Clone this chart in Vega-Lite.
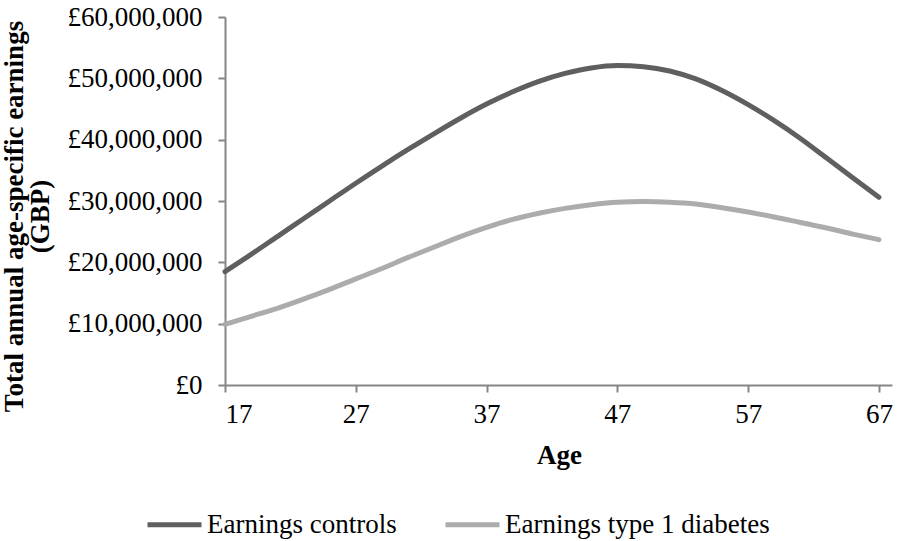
{
  "$schema": "https://vega.github.io/schema/vega-lite/v6.json",
  "width": 667,
  "height": 368,
  "autosize": {"type": "none"},
  "padding": {"left": 225, "top": 17, "right": 8, "bottom": 156},
  "background": "white",
  "config": {
    "font": "Liberation Serif",
    "view": {"stroke": null},
    "axis": {"grid": false, "domainColor": "#868686", "tickColor": "#868686", "domainWidth": 2, "tickWidth": 2, "labelFont": "Liberation Serif", "labelFontSize": 27, "labelColor": "#000000", "titleFont": "Liberation Serif", "titleFontSize": 27, "titleColor": "#000000", "titleFontWeight": "bold"}
  },
  "data": {
    "values": [
      {"age": 17, "series": "Earnings controls", "earnings": 18500000},
      {"age": 19, "series": "Earnings controls", "earnings": 21300000},
      {"age": 21, "series": "Earnings controls", "earnings": 24200000},
      {"age": 23, "series": "Earnings controls", "earnings": 27100000},
      {"age": 25, "series": "Earnings controls", "earnings": 30000000},
      {"age": 27, "series": "Earnings controls", "earnings": 32900000},
      {"age": 29, "series": "Earnings controls", "earnings": 35700000},
      {"age": 31, "series": "Earnings controls", "earnings": 38400000},
      {"age": 33, "series": "Earnings controls", "earnings": 41000000},
      {"age": 35, "series": "Earnings controls", "earnings": 43500000},
      {"age": 37, "series": "Earnings controls", "earnings": 45800000},
      {"age": 39, "series": "Earnings controls", "earnings": 47800000},
      {"age": 41, "series": "Earnings controls", "earnings": 49500000},
      {"age": 43, "series": "Earnings controls", "earnings": 50800000},
      {"age": 45, "series": "Earnings controls", "earnings": 51700000},
      {"age": 47, "series": "Earnings controls", "earnings": 52100000},
      {"age": 49, "series": "Earnings controls", "earnings": 51900000},
      {"age": 51, "series": "Earnings controls", "earnings": 51200000},
      {"age": 53, "series": "Earnings controls", "earnings": 49900000},
      {"age": 55, "series": "Earnings controls", "earnings": 48000000},
      {"age": 57, "series": "Earnings controls", "earnings": 45700000},
      {"age": 59, "series": "Earnings controls", "earnings": 43100000},
      {"age": 61, "series": "Earnings controls", "earnings": 40200000},
      {"age": 63, "series": "Earnings controls", "earnings": 37000000},
      {"age": 65, "series": "Earnings controls", "earnings": 33800000},
      {"age": 67, "series": "Earnings controls", "earnings": 30600000},
      {"age": 17, "series": "Earnings type 1 diabetes", "earnings": 9900000},
      {"age": 19, "series": "Earnings type 1 diabetes", "earnings": 11200000},
      {"age": 21, "series": "Earnings type 1 diabetes", "earnings": 12500000},
      {"age": 23, "series": "Earnings type 1 diabetes", "earnings": 14000000},
      {"age": 25, "series": "Earnings type 1 diabetes", "earnings": 15600000},
      {"age": 27, "series": "Earnings type 1 diabetes", "earnings": 17300000},
      {"age": 29, "series": "Earnings type 1 diabetes", "earnings": 19000000},
      {"age": 31, "series": "Earnings type 1 diabetes", "earnings": 20800000},
      {"age": 33, "series": "Earnings type 1 diabetes", "earnings": 22500000},
      {"age": 35, "series": "Earnings type 1 diabetes", "earnings": 24200000},
      {"age": 37, "series": "Earnings type 1 diabetes", "earnings": 25700000},
      {"age": 39, "series": "Earnings type 1 diabetes", "earnings": 27000000},
      {"age": 41, "series": "Earnings type 1 diabetes", "earnings": 28000000},
      {"age": 43, "series": "Earnings type 1 diabetes", "earnings": 28800000},
      {"age": 45, "series": "Earnings type 1 diabetes", "earnings": 29400000},
      {"age": 47, "series": "Earnings type 1 diabetes", "earnings": 29800000},
      {"age": 49, "series": "Earnings type 1 diabetes", "earnings": 29900000},
      {"age": 51, "series": "Earnings type 1 diabetes", "earnings": 29800000},
      {"age": 53, "series": "Earnings type 1 diabetes", "earnings": 29500000},
      {"age": 55, "series": "Earnings type 1 diabetes", "earnings": 28900000},
      {"age": 57, "series": "Earnings type 1 diabetes", "earnings": 28200000},
      {"age": 59, "series": "Earnings type 1 diabetes", "earnings": 27400000},
      {"age": 61, "series": "Earnings type 1 diabetes", "earnings": 26500000},
      {"age": 63, "series": "Earnings type 1 diabetes", "earnings": 25600000},
      {"age": 65, "series": "Earnings type 1 diabetes", "earnings": 24600000},
      {"age": 67, "series": "Earnings type 1 diabetes", "earnings": 23700000}
    ]
  },
  "mark": {"type": "line", "interpolate": "monotone", "strokeWidth": 5, "strokeCap": "round"},
  "encoding": {
    "x": {
      "field": "age", "type": "quantitative",
      "scale": {"domain": [17, 68], "nice": false, "zero": false},
      "axis": {"values": [17, 27, 37, 47, 57, 67], "title": "Age", "tickSize": 7, "labelPadding": 9, "titleX": 334, "titleY": 78, "titleBaseline": "alphabetic", "titleAlign": "center"}
    },
    "y": {
      "field": "earnings", "type": "quantitative",
      "scale": {"domain": [0, 60000000], "nice": false},
      "axis": {"values": [0, 10000000, 20000000, 30000000, 40000000, 50000000, 60000000], "labelExpr": "'£' + format(datum.value, ',')", "tickSize": 7, "labelPadding": 16, "title": ["Total annual age-specific earnings", "(GBP)"], "titleX": -224, "titleY": 199, "titleBaseline": "top", "titleAlign": "center", "titleLineHeight": 26}
    },
    "color": {
      "field": "series", "type": "nominal",
      "scale": {"domain": ["Earnings controls", "Earnings type 1 diabetes"], "range": ["#5f5f5f", "#acacac"]},
      "legend": {"title": null, "orient": "none", "direction": "horizontal", "legendX": -80, "legendY": 478, "symbolType": "stroke", "symbolSize": 2916, "symbolStrokeWidth": 5, "labelFontSize": 27, "labelFont": "Liberation Serif", "labelColor": "#000000", "labelOffset": 3, "columnPadding": 38, "labelLimit": 400}
    }
  }
}
